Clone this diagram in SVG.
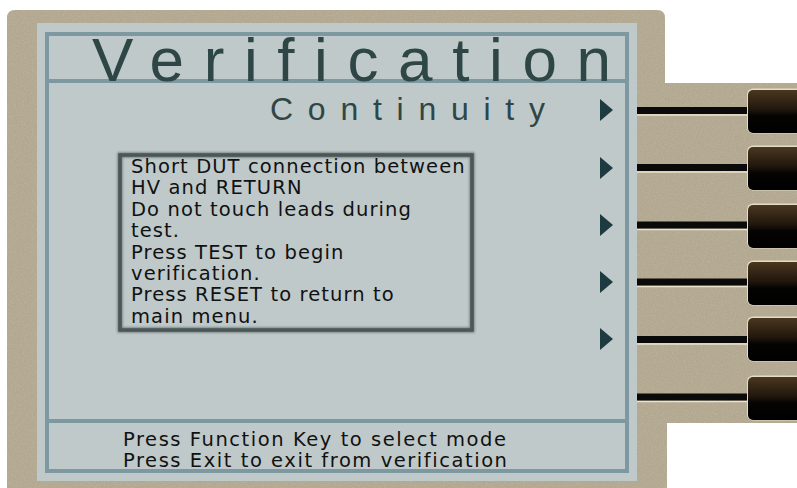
<svg xmlns="http://www.w3.org/2000/svg" width="797" height="488" viewBox="0 0 797 488">
  <defs>
    <style>
      .panel { fill: #b2a78f; }
      .screen { fill: #bfc9c9; }
      .rule { fill: none; stroke: #7d98a0; stroke-width: 4; }
      .title { font-family: "Liberation Sans", Arial, sans-serif; fill: #2f4646; }
      .body { font-family: "DejaVu Sans", Verdana, sans-serif; font-size: 19.5px; letter-spacing: 1.1px; fill: #111; }
      .foot { font-family: "DejaVu Sans", Verdana, sans-serif; font-size: 19.5px; letter-spacing: 1.55px; fill: #111; }
      .pointer { fill: #1d3a40; }
      .lead { stroke: #0a0a0a; stroke-width: 7; }
      .lead-glint { stroke: #e9e2cc; stroke-width: 1.5; }
      .key-edge { fill: #e3dcc6; }
      .key { fill: url(#keyFace); }
    </style>
    <linearGradient id="keyFace" x1="0" y1="0" x2="0" y2="1">
      <stop offset="0" stop-color="#4a3720"/>
      <stop offset="0.45" stop-color="#21170c"/>
      <stop offset="0.6" stop-color="#050403"/>
      <stop offset="1" stop-color="#000"/>
    </linearGradient>
    <filter id="soft" x="-10%" y="-10%" width="120%" height="120%">
      <feGaussianBlur stdDeviation="1.2"/>
    </filter>
    <filter id="grain" x="0" y="0" width="100%" height="100%">
      <feTurbulence type="fractalNoise" baseFrequency="0.9" numOctaves="2" seed="4" result="n"/>
      <feColorMatrix in="n" type="matrix" values="0 0 0 0 0.62  0 0 0 0 0.58  0 0 0 0 0.49  0 0 0 -1.2 0.75" result="t"/>
      <feComposite in="t" in2="SourceGraphic" operator="in"/>
    </filter>
  </defs>

  <!-- instrument bezel with the soft-key strip on the right -->
  <g id="panel">
    <path class="panel" d="M7,18 Q7,10 15,10 L657,10 Q665,10 665,18 L665,83 L797,83 L797,423 L667,423 L667,488 L7,488 Z"/>
    <path d="M7,18 Q7,10 15,10 L657,10 Q665,10 665,18 L665,83 L797,83 L797,423 L667,423 L667,488 L7,488 Z" fill="#b2a78f" filter="url(#grain)" opacity="0.6"/>
  </g>

  <!-- LCD area -->
  <g id="screen">
    <rect class="screen" x="37" y="23" width="600" height="458"/>
    <rect class="rule" x="47" y="34" width="580" height="437"/>
    <line class="rule" x1="47" y1="81" x2="627" y2="81"/>
    <line class="rule" x1="47" y1="421" x2="627" y2="421"/>
  </g>

  <g id="title">
    <text class="title" x="92" y="81" font-size="62" textLength="519" lengthAdjust="spacing">Verification</text>
  </g>

  <g id="mode-label">
    <text class="title" x="270" y="120" font-size="32" textLength="275" lengthAdjust="spacing">Continuity</text>
  </g>

  <!-- instruction box -->
  <g id="message">
    <rect x="120" y="155" width="352" height="175" fill="none" stroke="#2c3434" stroke-width="5" opacity="0.55" filter="url(#soft)"/>
    <rect x="120" y="155" width="352" height="175" fill="none" stroke="#4b5757" stroke-width="3.5"/>
    <text class="body" x="131" y="173">Short DUT connection between</text>
    <text class="body" x="131" y="194.4">HV and RETURN</text>
    <text class="body" x="131" y="215.8">Do not touch leads during</text>
    <text class="body" x="131" y="237.2">test.</text>
    <text class="body" x="131" y="258.6">Press TEST to begin</text>
    <text class="body" x="131" y="280">verification.</text>
    <text class="body" x="131" y="301.4">Press RESET to return to</text>
    <text class="body" x="131" y="322.8">main menu.</text>
  </g>

  <g id="footer">
    <text class="foot" x="123" y="446">Press Function Key to select mode</text>
    <text class="foot" x="123" y="467">Press Exit to exit from verification</text>
  </g>

  <!-- soft-key pointers on the display -->
  <g id="pointers">
    <polygon class="pointer" points="600,99 613,110 600,121"/>
    <polygon class="pointer" points="600,157 613,168 600,179"/>
    <polygon class="pointer" points="600,214 613,225 600,236"/>
    <polygon class="pointer" points="600,271 613,282 600,293"/>
    <polygon class="pointer" points="600,328 613,339 600,350"/>
  </g>

  <!-- leads from the display edge to each soft key -->
  <g id="connectors">
    <line class="lead-glint" x1="637" y1="115" x2="750" y2="115"/>
    <line class="lead" x1="637" y1="110.5" x2="752" y2="110.5"/>
    <line class="lead-glint" x1="637" y1="172" x2="750" y2="172"/>
    <line class="lead" x1="637" y1="167.5" x2="752" y2="167.5"/>
    <line class="lead-glint" x1="637" y1="229.5" x2="750" y2="229.5"/>
    <line class="lead" x1="637" y1="225" x2="752" y2="225"/>
    <line class="lead-glint" x1="637" y1="286.5" x2="750" y2="286.5"/>
    <line class="lead" x1="637" y1="282" x2="752" y2="282"/>
    <line class="lead-glint" x1="637" y1="344" x2="750" y2="344"/>
    <line class="lead" x1="637" y1="339.5" x2="752" y2="339.5"/>
    <line class="lead-glint" x1="637" y1="401.5" x2="750" y2="401.5"/>
    <line class="lead" x1="637" y1="397" x2="752" y2="397"/>
  </g>

  <!-- soft keys -->
  <g id="key-1"><rect class="key-edge" x="747" y="88.5" width="56" height="45" rx="6"/><rect class="key" x="748" y="90" width="55" height="43" rx="5"/></g>
  <g id="key-2"><rect class="key-edge" x="747" y="145.5" width="56" height="45" rx="6"/><rect class="key" x="748" y="147" width="55" height="43" rx="5"/></g>
  <g id="key-3"><rect class="key-edge" x="747" y="203.5" width="56" height="45" rx="6"/><rect class="key" x="748" y="205" width="55" height="43" rx="5"/></g>
  <g id="key-4"><rect class="key-edge" x="747" y="260.5" width="56" height="45" rx="6"/><rect class="key" x="748" y="262" width="55" height="43" rx="5"/></g>
  <g id="key-5"><rect class="key-edge" x="747" y="316.5" width="56" height="45" rx="6"/><rect class="key" x="748" y="318" width="55" height="43" rx="5"/></g>
  <g id="key-6"><rect class="key-edge" x="747" y="375.5" width="56" height="45" rx="6"/><rect class="key" x="748" y="377" width="55" height="43" rx="5"/></g>
</svg>
